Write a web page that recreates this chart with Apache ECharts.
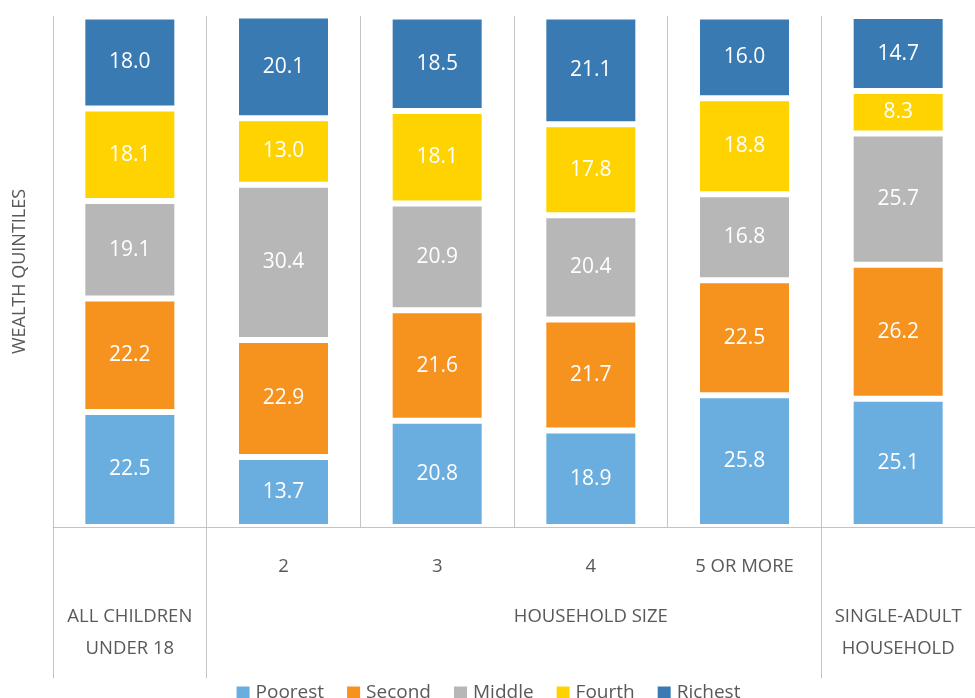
<!DOCTYPE html>
<html>
<head>
<meta charset="utf-8">
<title>Wealth quintiles by household type</title>
<script src="https://cdn.jsdelivr.net/npm/echarts@6/dist/echarts.min.js"></script>
<style>
  html, body { margin: 0; padding: 0; background: #fff; }
  #chart { width: 975px; height: 698px; }
</style>
</head>
<body>
<div id="chart"></div>
<script>
// Categories along the x axis
const categories = ['ALL CHILDREN UNDER 18', '2', '3', '4', '5 OR MORE', 'SINGLE-ADULT HOUSEHOLD'];
// Labels shown directly under each bar (household sizes only)
const sizeLabels = ['', '2', '3', '4', '5 OR MORE', ''];
// Group labels on the second row
const groupLabels = ['ALL CHILDREN\nUNDER 18', '', '', 'HOUSEHOLD SIZE', '', 'SINGLE-ADULT\nHOUSEHOLD'];
// Category indices where a group boundary line runs down through the label area
const groupBoundaries = [0, 1, 5];

// Share of children in each wealth quintile (%)
const poorest = [22.5, 13.7, 20.8, 18.9, 25.8, 25.1];
const second  = [22.2, 22.9, 21.6, 21.7, 22.5, 26.2];
const middle  = [19.1, 30.4, 20.9, 20.4, 16.8, 25.7];
const fourth  = [18.1, 13.0, 18.1, 17.8, 18.8, 8.3];
const richest = [18.0, 20.1, 18.5, 21.1, 16.0, 14.7];

const seriesDefs = [
  { name: 'Poorest', data: poorest, color: '#69AEDF' },
  { name: 'Second',  data: second,  color: '#F6921E' },
  { name: 'Middle',  data: middle,  color: '#B7B7B7' },
  { name: 'Fourth',  data: fourth,  color: '#FFD300' },
  { name: 'Richest', data: richest, color: '#3A7AB2' }
];

const FONT = 'Open Sans';
const TEXT = '#595959';
const LINE = '#c4c4c4';

const chart = echarts.init(document.getElementById('chart'), null, { renderer: 'canvas' });

chart.setOption({
  animation: false,
  backgroundColor: '#ffffff',
  textStyle: { fontFamily: FONT },
  grid: { left: 53, right: -1, top: 16, bottom: 171, containLabel: false },
  legend: {
    data: seriesDefs.map(s => s.name),
    left: 'center',
    top: 678,
    itemWidth: 15,
    itemHeight: 15,
    itemGap: 21,
    icon: 'rect',
    textStyle: { fontFamily: FONT, fontSize: 19, color: TEXT, lineHeight: 20 }
  },
  xAxis: [
    {
      type: 'category',
      data: categories,
      position: 'bottom',
      axisLine: { show: true, lineStyle: { color: LINE, width: 1 } },
      axisTick: {
        show: true,
        length: 151,
        interval: (index) => groupBoundaries.indexOf(index) !== -1,
        lineStyle: { color: LINE, width: 1 }
      },
      axisLabel: {
        interval: 0,
        margin: 30,
        fontFamily: FONT,
        fontSize: 18.5,
        color: TEXT,
        formatter: (value, index) => sizeLabels[index]
      },
      splitLine: {
        show: true,
        showMinLine: true,
        showMaxLine: false,
        lineStyle: { color: LINE, width: 1 }
      }
    },
    {
      type: 'category',
      data: categories,
      position: 'bottom',
      axisLine: { show: false },
      axisTick: { show: false },
      splitLine: { show: false },
      axisLabel: {
        interval: 0,
        margin: 74,
        fontFamily: FONT,
        fontSize: 18.5,
        lineHeight: 32,
        color: TEXT,
        formatter: (value, index) => groupLabels[index]
      }
    }
  ],
  yAxis: {
    type: 'value',
    min: 0,
    max: 100,
    axisLine: { show: false },
    axisTick: { show: false },
    axisLabel: { show: false },
    splitLine: { show: false },
    name: 'WEALTH QUINTILES',
    nameLocation: 'middle',
    nameRotate: 90,
    nameGap: 24,
    nameTextStyle: { fontFamily: FONT, fontSize: 18, color: TEXT }
  },
  series: seriesDefs.map(s => ({
    name: s.name,
    type: 'bar',
    stack: 'quintiles',
    xAxisIndex: 0,
    barWidth: 95,
    clip: false,
    data: s.data,
    itemStyle: { color: s.color, borderColor: '#ffffff', borderWidth: 3 },
    label: {
      show: true,
      position: 'inside',
      color: '#ffffff',
      fontFamily: FONT,
      fontSize: 21,
      formatter: (p) => p.value.toFixed(1)
    }
  }))
});
</script>
</body>
</html>
